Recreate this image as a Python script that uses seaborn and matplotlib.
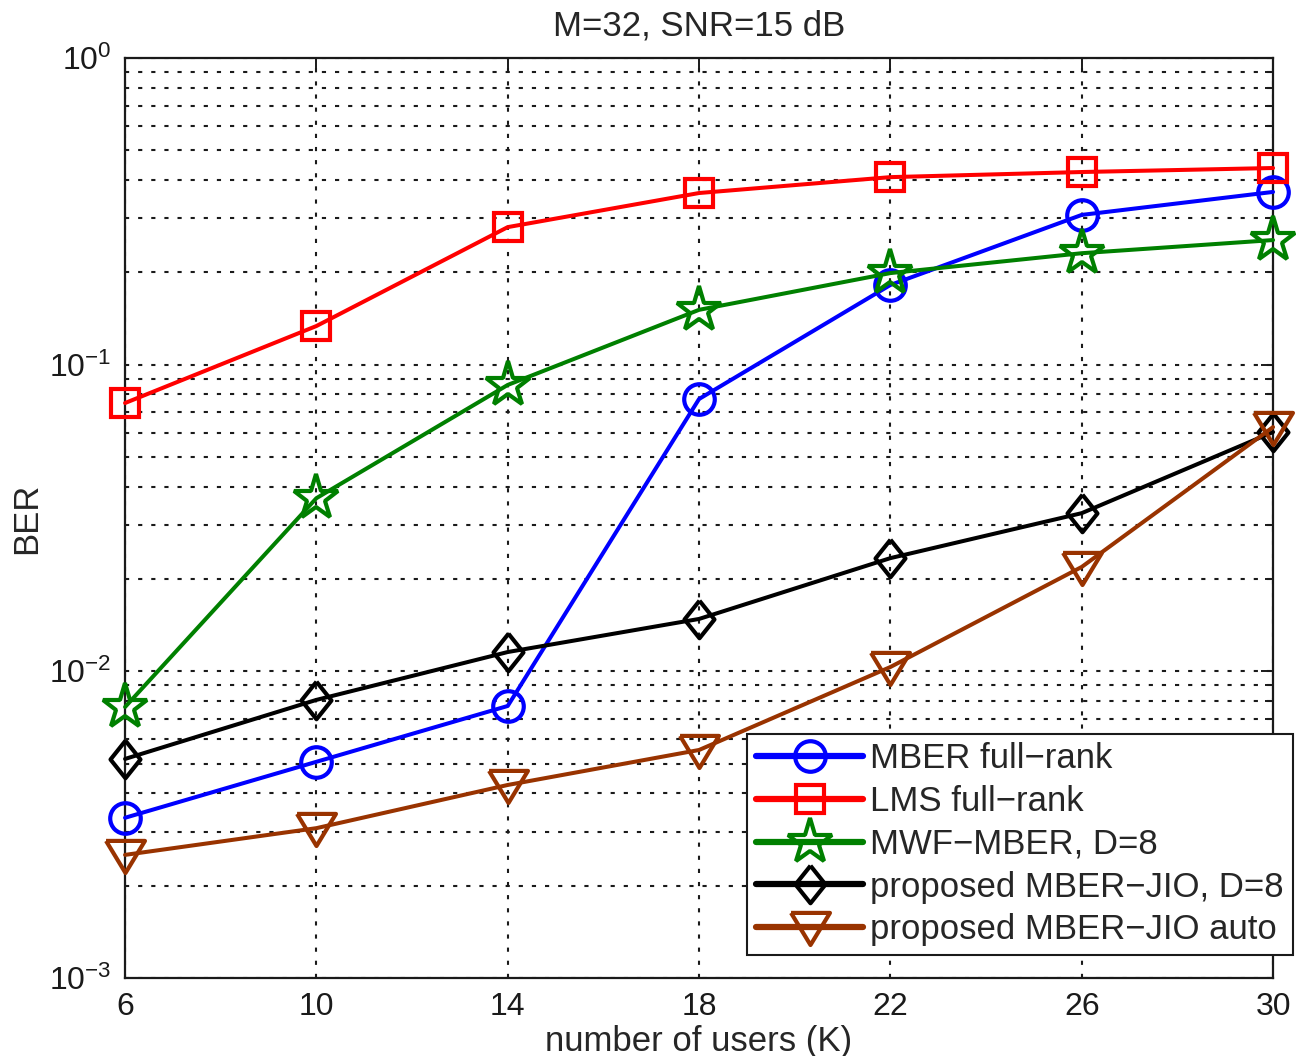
import matplotlib
matplotlib.use("Agg")
import matplotlib.pyplot as plt
from matplotlib.colors import to_rgb
from matplotlib.ticker import LogLocator, NullFormatter
import pandas as pd
import seaborn as sns

USERS = [6, 10, 14, 18, 22, 26, 30]

MBER_FULL = [0.00333, 0.00507, 0.00771, 0.0773, 0.182, 0.308, 0.366]
LMS_FULL = [0.075, 0.1337, 0.281, 0.363, 0.409, 0.425, 0.438]
MWF_MBER = [0.00765, 0.0367, 0.0859, 0.151, 0.199, 0.231, 0.255]
JIO_D8 = [0.00518, 0.00807, 0.01156, 0.01482, 0.0234, 0.0328, 0.0603]
JIO_AUTO = [0.00252, 0.00308, 0.00426, 0.00554, 0.01033, 0.0219, 0.0626]

NAMES = [
    "MBER full\u2212rank",
    "LMS full\u2212rank",
    "MWF\u2212MBER, D=8",
    "proposed MBER\u2212JIO, D=8",
    "proposed MBER\u2212JIO auto",
]
VALUES = [MBER_FULL, LMS_FULL, MWF_MBER, JIO_D8, JIO_AUTO]

COLORS = {
    NAMES[0]: (0.0, 0.0, 1.0),
    NAMES[1]: (1.0, 0.0, 0.0),
    NAMES[2]: (0.0, 0.5, 0.0),
    NAMES[3]: (0.0, 0.0, 0.0),
    NAMES[4]: (0.6, 0.2, 0.0),
}
# closed outlines for the matlab diamond / down triangle
MARKERS = {
    NAMES[0]: "o",
    NAMES[1]: "s",
    NAMES[2]: "*",
    NAMES[3]: [(0, 1), (0.8, 0), (0, -1), (-0.8, 0), (0, 1)],
    NAMES[4]: [(-1, 0.75), (1, 0.75), (0, -0.9), (-1, 0.75)],
}
MSIZE = {NAMES[0]: 22, NAMES[1]: 20, NAMES[2]: 34, NAMES[3]: 27, NAMES[4]: 28}

rows = []
for name, vals in zip(NAMES, VALUES):
    for k, v in zip(USERS, vals):
        rows.append([k, v, name])
df = pd.DataFrame(rows, columns=["users", "ber", "method"])

sns.set_theme(style="white")
plt.rcParams["font.family"] = ["Liberation Sans", "DejaVu Sans"]
plt.rcParams["mathtext.default"] = "regular"

fig = plt.figure(figsize=(12.96, 10.56), dpi=100)
ax = fig.add_subplot(111)
fig.subplots_adjust(left=0.0965, right=0.9823, bottom=0.0739, top=0.945)

sns.lineplot(data=df, x="users", y="ber", hue="method", style="method",
             hue_order=NAMES, style_order=NAMES,
             palette=COLORS, markers=MARKERS, dashes=False,
             linewidth=2.9, legend=False, ax=ax)

# matlab style open markers
color_to_name = {to_rgb(c): n for n, c in COLORS.items()}
handles = {}
for line in ax.lines:
    name = color_to_name.get(to_rgb(line.get_color()))
    if name is None:
        continue
    line.set_markerfacecolor("none")
    line.set_markeredgecolor(line.get_color())
    line.set_markeredgewidth(3.0)
    line.set_markersize(MSIZE[name])
    line.set_clip_on(False)
    line.set_zorder(3)
    handles[name] = line

ax.set_yscale("log")
ax.set_ylim(1e-3, 1)
ax.set_xlim(6, 30)
ax.set_xticks(USERS)
ax.yaxis.set_minor_locator(LogLocator(base=10, subs=range(2, 10)))
ax.yaxis.set_minor_formatter(NullFormatter())

grid_ls = (0, (2, 4.3))
ax.grid(True, which="major", axis="both", color="k", linestyle=grid_ls, linewidth=1.5)
ax.grid(True, which="minor", axis="y", color="k", linestyle=grid_ls, linewidth=1.5)
ax.set_axisbelow(True)

for sp in ax.spines.values():
    sp.set_color("k")
    sp.set_linewidth(1.6)
    sp.set_visible(True)
ax.tick_params(which="both", direction="in", top=True, right=True, colors="k", width=1.4)
ax.tick_params(which="major", length=9, labelsize=23)
ax.tick_params(which="minor", length=6)
ax.tick_params(axis="y", pad=10)
ax.tick_params(axis="x", pad=10)

ax.set_title("M=32, SNR=15 dB", fontsize=25, pad=16)
ax.set_xlabel("number of users (K)", fontsize=25, labelpad=2)
ax.set_ylabel("BER", fontsize=25, labelpad=4)

leg = ax.legend([handles[n] for n in NAMES], NAMES, loc="lower right",
                bbox_to_anchor=(1.017, 0.025), fontsize=25, fancybox=False,
                framealpha=1, edgecolor="k", handlelength=3.1,
                labelspacing=0.28, borderpad=0.25, handletextpad=0.2,
                borderaxespad=0.0)
leg.get_frame().set_linewidth(1.5)
for h in leg.legend_handles:
    h.set_linewidth(4.5)
leg.set_zorder(5)

fig.savefig("out.png", dpi=100)
